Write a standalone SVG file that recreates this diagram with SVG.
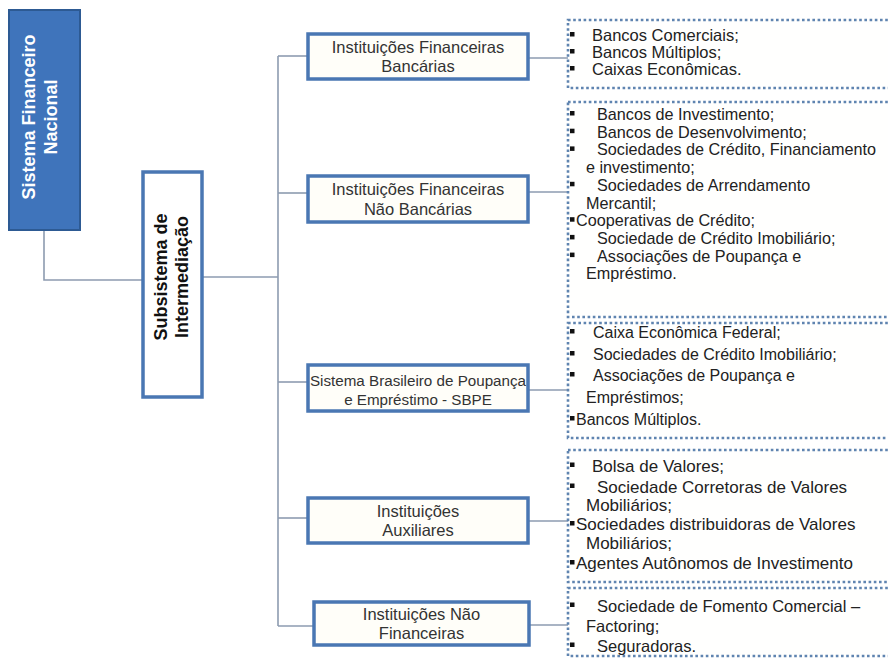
<svg xmlns="http://www.w3.org/2000/svg" width="888" height="659" viewBox="0 0 888 659">
<style>
.conn{fill:none;stroke:#8d9bb0;stroke-width:1.6}
.mid{fill:#fffef9;stroke:#4a77b3;stroke-width:3.5}
.lst{fill:#fffffe;stroke:#5f84b0;stroke-width:2.6;stroke-dasharray:2.6 2.6}
.mt{font-family:"Liberation Sans",Arial,sans-serif;font-size:16.5px;fill:#333;text-anchor:middle}
.lt{font-family:"Liberation Sans",Arial,sans-serif;fill:#222}
.b{fill:#111}
.root{font-family:"Liberation Sans",Arial,sans-serif;font-size:18px;font-weight:bold;fill:#fff;text-anchor:middle}
.sub{font-family:"Liberation Sans",Arial,sans-serif;font-size:18px;font-weight:bold;fill:#111;text-anchor:middle}
</style>
<rect width="888" height="659" fill="#ffffff"/>
<g id="connectors">
<polyline class="conn" points="44,230 44,280 143,280"/>
<line class="conn" x1="202" y1="277" x2="278" y2="277"/>
<line class="conn" x1="278" y1="56" x2="278" y2="626"/>
<line class="conn" x1="278" y1="56" x2="308" y2="56"/>
<line class="conn" x1="278" y1="193" x2="308" y2="193"/>
<line class="conn" x1="278" y1="382" x2="308" y2="382"/>
<line class="conn" x1="278" y1="518" x2="308" y2="518"/>
<line class="conn" x1="278" y1="626" x2="314" y2="626"/>
<line class="conn" x1="528" y1="58" x2="568" y2="58"/>
<line class="conn" x1="528" y1="192" x2="568" y2="192"/>
<line class="conn" x1="528" y1="390" x2="568" y2="390"/>
<line class="conn" x1="528" y1="521" x2="568" y2="521"/>
<line class="conn" x1="529" y1="625" x2="568" y2="625"/>
</g>
<g id="sfn">
<rect x="9" y="10" width="71" height="220" fill="#3f74bb" stroke="#2d5a93" stroke-width="2"/>
<text class="root" transform="translate(35,117) rotate(-90)"><tspan x="0" y="0">Sistema Financeiro</tspan><tspan x="0" y="22">Nacional</tspan></text>
</g>
<g id="subsistema">
<rect x="143" y="172" width="59" height="225" fill="#ffffff" stroke="#4a77b3" stroke-width="3.5"/>
<text class="sub" transform="translate(167,277) rotate(-90)"><tspan x="0" y="0">Subsistema de</tspan><tspan x="0" y="21">Intermediação</tspan></text>
</g>
<g id="if-bancarias">
<rect class="mid" x="308" y="34" width="220" height="45"/>
<text class="mt"><tspan x="418" y="52.5">Instituições Financeiras</tspan><tspan x="418" y="71.5">Bancárias</tspan></text>
</g>
<g id="if-nao-bancarias">
<rect class="mid" x="308" y="176" width="220" height="46"/>
<text class="mt"><tspan x="418" y="195">Instituições Financeiras</tspan><tspan x="418" y="214.5">Não Bancárias</tspan></text>
</g>
<g id="sbpe">
<rect class="mid" x="308" y="365" width="220" height="46"/>
<text class="mt"><tspan x="418" y="386" font-size="15.2">Sistema Brasileiro de Poupança</tspan><tspan x="418" y="405" font-size="15.2">e Empréstimo - SBPE</tspan></text>
</g>
<g id="auxiliares">
<rect class="mid" x="308" y="498" width="220" height="45"/>
<text class="mt"><tspan x="418" y="516.5">Instituições</tspan><tspan x="418" y="536">Auxiliares</tspan></text>
</g>
<g id="nao-financeiras">
<rect class="mid" x="314" y="602" width="215" height="43"/>
<text class="mt"><tspan x="421.5" y="620">Instituições Não</tspan><tspan x="421.5" y="639">Financeiras</tspan></text>
</g>
<g id="lista-bancarias">
<rect class="lst" x="568" y="20" width="330" height="68"/>
<rect class="b" x="570" y="32" width="4.5" height="4.5"/>
<rect class="b" x="570" y="49" width="4.5" height="4.5"/>
<rect class="b" x="570" y="66" width="4.5" height="4.5"/>
<text class="lt" font-size="16.5"><tspan x="592" y="41">Bancos Comerciais;</tspan><tspan x="592" y="58">Bancos Múltiplos;</tspan><tspan x="592" y="75">Caixas Econômicas.</tspan></text>
</g>
<g id="lista-nao-bancarias">
<rect class="lst" x="568" y="102" width="330" height="215"/>
<rect class="b" x="570" y="111" width="4.5" height="4.5"/>
<rect class="b" x="570" y="128.7" width="4.5" height="4.5"/>
<rect class="b" x="570" y="146.4" width="4.5" height="4.5"/>
<rect class="b" x="570" y="181.8" width="4.5" height="4.5"/>
<rect class="b" x="570" y="217.2" width="4.5" height="4.5"/>
<rect class="b" x="570" y="234.9" width="4.5" height="4.5"/>
<rect class="b" x="570" y="252.6" width="4.5" height="4.5"/>
<text class="lt" font-size="16.2"><tspan x="597" y="120">Bancos de Investimento;</tspan><tspan x="597" y="137.7">Bancos de Desenvolvimento;</tspan><tspan x="597" y="155.4">Sociedades de Crédito, Financiamento</tspan><tspan x="586" y="173.1">e investimento;</tspan><tspan x="597" y="190.8">Sociedades de Arrendamento</tspan><tspan x="586" y="208.5">Mercantil;</tspan><tspan x="576" y="226.2">Cooperativas de Crédito;</tspan><tspan x="597" y="243.9">Sociedade de Crédito Imobiliário;</tspan><tspan x="597" y="261.6">Associações de Poupança e</tspan><tspan x="586" y="279.3">Empréstimo.</tspan></text>
</g>
<g id="lista-sbpe">
<rect class="lst" x="568" y="323" width="330" height="115"/>
<rect class="b" x="570" y="329" width="4.5" height="4.5"/>
<rect class="b" x="570" y="351" width="4.5" height="4.5"/>
<rect class="b" x="570" y="372" width="4.5" height="4.5"/>
<rect class="b" x="570" y="416" width="4.5" height="4.5"/>
<text class="lt" font-size="16"><tspan x="593" y="338">Caixa Econômica Federal;</tspan><tspan x="593" y="360">Sociedades de Crédito Imobiliário;</tspan><tspan x="593" y="381">Associações de Poupança e</tspan><tspan x="586" y="403">Empréstimos;</tspan><tspan x="576" y="425">Bancos Múltiplos.</tspan></text>
</g>
<g id="lista-auxiliares">
<rect class="lst" x="568" y="450" width="330" height="132"/>
<rect class="b" x="570" y="462.5" width="4.5" height="4.5"/>
<rect class="b" x="570" y="483.5" width="4.5" height="4.5"/>
<rect class="b" x="570" y="521" width="4.5" height="4.5"/>
<rect class="b" x="570" y="560" width="4.5" height="4.5"/>
<text class="lt" font-size="17"><tspan x="592" y="471.5">Bolsa de Valores;</tspan><tspan x="597" y="492.5">Sociedade Corretoras de Valores</tspan><tspan x="586" y="510.5">Mobiliários;</tspan><tspan x="576" y="530">Sociedades distribuidoras de Valores</tspan><tspan x="586" y="549">Mobiliários;</tspan><tspan x="576" y="569">Agentes Autônomos de Investimento</tspan></text>
</g>
<g id="lista-nao-financeiras">
<rect class="lst" x="568" y="588" width="330" height="68"/>
<rect class="b" x="570" y="602.5" width="4.5" height="4.5"/>
<rect class="b" x="570" y="642.5" width="4.5" height="4.5"/>
<text class="lt" font-size="16.5"><tspan x="597" y="611.5">Sociedade de Fomento Comercial –</tspan><tspan x="586" y="631.5">Factoring;</tspan><tspan x="597" y="651.5">Seguradoras.</tspan></text>
</g>
</svg>
